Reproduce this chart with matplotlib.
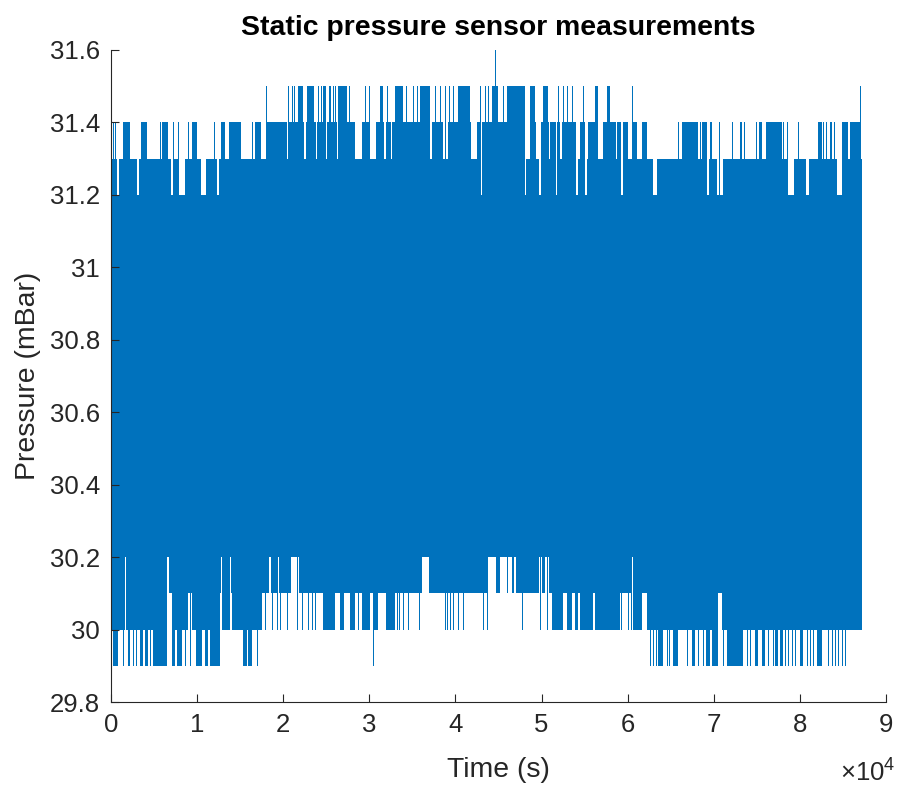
import matplotlib.pyplot as plt

# Static pressure sensor, 0 .. 87200 s, readings quantised to 0.1 mBar.
# The signal is dense noise: it fills 30.2 .. 31.2 everywhere, and the
# lists below give the stretches [start, end] (s) where it reaches the
# outer levels. A single spike is written [t, t].
t_end = 87200
core_lo = 30.2
core_hi = 31.2

up_31_3 = [[120, 700], [930, 3020], [3250, 6970], [7200, 7900], [8590, 10450],
           [11030, 12310], [12540, 42970], [43200, 43780], [44010, 47960],
           [48190, 49700], [49940, 51680], [51910, 54000], [54230, 55050],
           [55280, 59110], [59570, 62940], [63410, 69100], [69450, 70370],
           [71070, 78500], [79320, 80710], [81060, 84310], [85120, 87210]]

up_31_4 = [[270, 270], [460, 460], [1430, 2210], [3450, 4220], [5690, 5690],
           [5960, 6650], [7230, 7230], [7820, 7820], [8910, 8910], [9440, 9950],
           [11960, 11960], [12740, 13240], [13740, 15100], [16340, 16340],
           [16720, 17420], [17970, 20400], [20590, 22410], [22650, 23810],
           [23980, 24850], [25030, 26300], [26480, 28340], [29110, 29960],
           [30770, 31700], [31940, 32520], [32690, 33100], [33270, 36990],
           [37280, 38500], [39080, 41810], [42500, 42970], [43140, 45120],
           [45230, 48020], [48720, 49360], [49880, 50920], [51040, 51680],
           [51850, 52090], [52430, 54000], [54520, 54990], [55450, 56500],
           [57190, 58650], [58820, 59230], [59490, 60070], [60470, 61050],
           [61630, 62210], [65880, 65880], [66280, 68200], [68400, 68400],
           [68600, 69180], [69560, 69760], [70610, 70610], [72150, 72150],
           [73050, 73240], [73550, 73550], [74900, 74900], [75290, 75570],
           [76070, 77890], [78080, 78080], [78470, 78470], [79820, 79820],
           [82140, 82530], [82720, 82720], [83000, 83000], [83500, 83700],
           [83960, 83960], [84860, 85620], [85820, 86980]]

up_31_5 = [[17970, 17970], [20590, 20590], [21050, 21050], [21290, 21290],
           [21680, 22330], [22800, 23610], [24070, 24070], [24390, 24390],
           [24650, 24930], [25320, 25550], [25820, 25820], [26010, 26010],
           [26400, 27370], [27640, 27640], [29500, 29500], [30000, 30000],
           [31240, 31620], [32020, 32020], [32980, 33950], [34220, 34220],
           [35040, 35040], [35570, 35570], [35880, 37050], [37630, 37630],
           [38210, 38210], [38790, 38790], [39290, 39290], [39750, 39750],
           [40330, 41690], [42850, 42850], [43430, 43430], [43820, 43820],
           [44210, 44980], [45490, 45490], [45950, 48080], [48660, 49240],
           [50130, 50780], [51950, 51950], [52530, 52530], [52990, 52990],
           [53500, 53500], [54780, 54780], [56210, 56590], [57570, 57950],
           [60540, 60540], [86980, 86980]]

up_31_6 = [[44590, 44590]]

dn_30_1 = [[120, 1510], [1740, 6500], [6740, 12770], [13010, 13700],
           [13940, 15100], [15330, 18350], [18580, 19280], [19510, 20900],
           [21830, 36120], [36930, 43670], [44710, 45170], [45990, 46100],
           [46570, 46800], [47030, 49700], [50050, 50400], [50860, 60500],
           [60740, 61430], [61670, 65730], [65960, 87210]]

dn_30_0 = [[80, 1570], [1800, 6470], [7050, 8980], [9440, 11880], [12930, 13820],
           [14020, 15180], [15250, 17500], [17880, 17880], [18660, 18660],
           [19240, 19240], [19630, 19630], [20400, 20400], [21570, 21570],
           [22150, 22150], [22910, 22910], [23310, 23310], [23690, 23690],
           [24650, 26010], [26590, 27090], [27750, 28340], [28720, 28720],
           [29110, 30080], [30460, 31040], [31940, 32980], [33180, 33180],
           [33480, 33480], [33880, 33880], [34530, 34530], [35800, 35800],
           [38790, 38790], [39060, 39060], [39370, 39370], [39680, 39680],
           [40330, 40330], [40910, 40910], [43240, 43240], [43630, 43630],
           [47690, 47690], [49820, 49820], [50600, 50600], [51180, 52530],
           [52920, 53500], [53880, 54270], [54460, 56010], [56210, 59110],
           [59230, 59230], [60000, 60000], [60390, 60390], [60650, 61630],
           [62210, 62210], [62400, 70530], [70990, 87180]]

dn_29_9 = [[270, 780], [1430, 1430], [1940, 2210], [2590, 2590], [2870, 2870],
           [3370, 3750], [3950, 4330], [4530, 4530], [4910, 6470], [7050, 7430],
           [7630, 8210], [8590, 8590], [9170, 9170], [9840, 10530],
           [10920, 11300], [11500, 12660], [15360, 15760], [15940, 16340],
           [16920, 16920], [30390, 30390], [62590, 62590], [62980, 62980],
           [63260, 63260], [63560, 64140], [64530, 64530], [64800, 64800],
           [65300, 65880], [66860, 66860], [67440, 67820], [68200, 68200],
           [68790, 68790], [69060, 69560], [69830, 70530], [71110, 71110],
           [71500, 73430], [73820, 73820], [74210, 74210], [74790, 75170],
           [75570, 75950], [76330, 76330], [76910, 76910], [77110, 77490],
           [77690, 78080], [78270, 78270], [78650, 78650], [79050, 79050],
           [79430, 79430], [80010, 80400], [80790, 80790], [81180, 81180],
           [81560, 81560], [81950, 82530], [83300, 83300], [83700, 83700],
           [84080, 84080], [84460, 84460], [84860, 84860], [85240, 85240]]

x_ticks = [0, 10000, 20000, 30000, 40000, 50000, 60000, 70000, 80000, 90000]
x_tick_labels = ['0', '1', '2', '3', '4', '5', '6', '7', '8', '9']
y_ticks = [29.8, 30.0, 30.2, 30.4, 30.6, 30.8, 31.0, 31.2, 31.4, 31.6]
y_tick_labels = ['29.8', '30', '30.2', '30.4', '30.6', '30.8', '31', '31.2', '31.4', '31.6']

blue = '#0072BD'
dark = '#262626'

plt.rcParams['font.family'] = ['Liberation Sans', 'DejaVu Sans']
plt.rcParams['mathtext.fontset'] = 'custom'
plt.rcParams['mathtext.rm'] = 'Liberation Sans'

fig = plt.figure(figsize=(8.98, 7.91), dpi=100)
ax = fig.add_axes([0.1236, 0.1125, 0.863, 0.8243])


def fill_spans(spans, lo, hi):
    # one sample is about one pixel wide, so spikes get a minimum width
    bars = [(a, max(b - a, 110)) for a, b in spans]
    ax.broken_barh(bars, (lo, hi - lo), facecolors=blue, linewidth=0)


ax.broken_barh([(0, t_end)], (core_lo, core_hi - core_lo), facecolors=blue, linewidth=0)
fill_spans(up_31_3, core_hi, 31.3)
fill_spans(up_31_4, core_hi, 31.4)
fill_spans(up_31_5, core_hi, 31.5)
fill_spans(up_31_6, core_hi, 31.6)
fill_spans(dn_30_1, 30.1, core_lo)
fill_spans(dn_30_0, 30.0, core_lo)
fill_spans(dn_29_9, 29.9, core_lo)

ax.set_xlim(0, 90000)
ax.set_ylim(29.8, 31.6)
ax.set_xticks(x_ticks)
ax.set_xticklabels(x_tick_labels)
ax.set_yticks(y_ticks)
ax.set_yticklabels(y_tick_labels)

for side in ['top', 'right']:
    ax.spines[side].set_visible(False)
for side in ['left', 'bottom']:
    ax.spines[side].set_color(dark)
    ax.spines[side].set_linewidth(0.8)
ax.tick_params(direction='in', length=5.5, width=0.8, color=dark,
               labelcolor=dark, labelsize=18.5, pad=8)

ax.set_xlabel('Time (s)', fontsize=20.4, color=dark)
ax.xaxis.set_label_coords(0.5, -0.084)
ax.xaxis.label.set_va('top')
ax.set_ylabel('Pressure (mBar)', fontsize=20.4, color=dark)
ax.yaxis.set_label_coords(-0.09, 0.5)
ax.set_title('Static pressure sensor measurements', fontsize=20.4,
             fontweight='bold', pad=11)
ax.text(1.012, -0.088, r'$\times\mathregular{10^{4}}$', transform=ax.transAxes,
        ha='right', va='top', fontsize=18.5, color=dark)

fig.savefig('out.png', dpi=100)
